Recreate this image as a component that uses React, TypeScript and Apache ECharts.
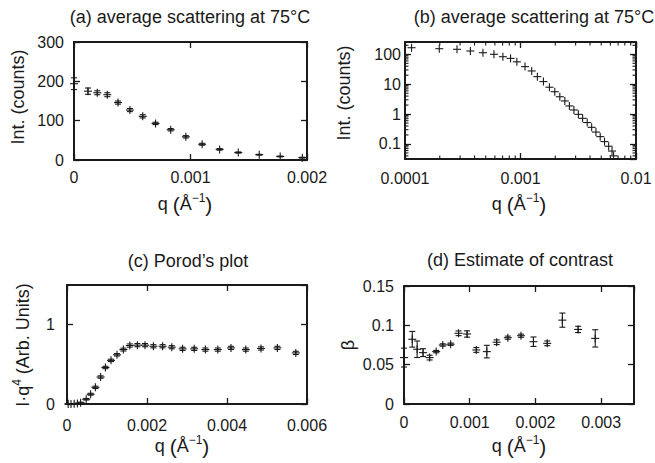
import { useEffect, useRef } from "react";
import * as echarts from "echarts";

// ---------- Panel (a): average scattering, linear ----------
const qA = [0, 0.00012, 0.0002, 0.000286, 0.000378, 0.00048, 0.00059, 0.0007, 0.00083, 0.00096, 0.0011, 0.00125, 0.00141, 0.00159, 0.00177, 0.00196];
const intA = [194, 175, 171, 166, 146, 127, 111, 93, 77, 59, 40, 27, 19, 13.5, 9, 6];
const errA = [15, 8, 5, 5, 4, 4, 4, 3, 3, 3, 2.5, 2, 1.5, 1, 1, 1];

// ---------- Panel (b): average scattering, log-log ----------
const qB = [0.000114, 0.000198, 0.000282, 0.000368, 0.000473, 0.000589, 0.000704, 0.00082, 0.00093, 0.001094, 0.00125, 0.0014, 0.00158, 0.00178, 0.00198, 0.00219, 0.00242, 0.00265, 0.0029, 0.00317, 0.00345, 0.00378, 0.00413, 0.0045, 0.0049, 0.00534, 0.0058, 0.0062, 0.0064];
const intB = [166, 154, 147, 129, 113, 100, 83, 73, 56, 38.7, 27.7, 17.9, 12.2, 7.9, 5.6, 3.8, 2.75, 1.87, 1.37, 0.98, 0.72, 0.52, 0.36, 0.25, 0.176, 0.12, 0.084, 0.058, 0.04];
const minorXB = [0.0002, 0.0003, 0.0004, 0.0005, 0.0006, 0.0007, 0.0008, 0.0009, 0.002, 0.003, 0.004, 0.005, 0.006, 0.007, 0.008, 0.009];
const minorYB = [0.04, 0.05, 0.06, 0.07, 0.08, 0.09, 0.2, 0.3, 0.4, 0.5, 0.6, 0.7, 0.8, 0.9, 2, 3, 4, 5, 6, 7, 8, 9, 20, 30, 40, 50, 60, 70, 80, 90, 200];

// ---------- Panel (c): Porod's plot ----------
const qC = [0.00003, 0.0001, 0.00018, 0.00026, 0.00034, 0.00048, 0.00059, 0.00071, 0.00084, 0.00096, 0.0011, 0.00125, 0.00141, 0.00157, 0.00176, 0.00195, 0.00216, 0.00239, 0.00262, 0.00289, 0.00318, 0.00346, 0.00377, 0.0041, 0.00447, 0.00485, 0.00526, 0.00572];
const porodC = [0, 0, 0.002, 0.005, 0.015, 0.06, 0.123, 0.21, 0.34, 0.46, 0.55, 0.62, 0.686, 0.737, 0.742, 0.742, 0.728, 0.728, 0.716, 0.695, 0.695, 0.686, 0.686, 0.707, 0.686, 0.7, 0.707, 0.644];
const errC = [0.005, 0.005, 0.005, 0.005, 0.008, 0.01, 0.012, 0.015, 0.015, 0.015, 0.015, 0.015, 0.018, 0.02, 0.02, 0.02, 0.02, 0.02, 0.02, 0.02, 0.02, 0.02, 0.02, 0.02, 0.02, 0.02, 0.02, 0.02];

// ---------- Panel (d): estimate of contrast ----------
const qD = [0, 0.000126, 0.0002, 0.00029, 0.00039, 0.00049, 0.00059, 0.00071, 0.00083, 0.00096, 0.0011, 0.00126, 0.00141, 0.00158, 0.00178, 0.00197, 0.00218, 0.00241, 0.00265, 0.00291];
const betaD = [0.059, 0.0823, 0.0696, 0.0653, 0.059, 0.0666, 0.075, 0.076, 0.0899, 0.089, 0.0687, 0.0666, 0.0785, 0.0843, 0.0868, 0.0792, 0.0771, 0.1066, 0.0948, 0.0834];
const errD = [0.012, 0.01, 0.0105, 0.005, 0.003, 0.0015, 0.0015, 0.0015, 0.003, 0.004, 0.003, 0.008, 0.003, 0.002, 0.002, 0.006, 0.003, 0.009, 0.004, 0.011];

const titles = [
  "(a) average scattering at 75°C",
  "(b) average scattering at 75°C",
  "(c) Porod\u2019s plot",
  "(d) Estimate of contrast",
];

const FONT = "'Liberation Sans', Arial, Helvetica, sans-serif";
const INK = "#1a1a1a";
const TICK_FS = 16;
const NAME_FS = 18;

const grids = [
  { left: 74, top: 42, width: 233, height: 118 },
  { left: 405, top: 42, width: 231, height: 117 },
  { left: 67, top: 285, width: 240, height: 119 },
  { left: 404, top: 286, width: 230, height: 118 },
];

const fmt = (v: number) => String(Number(Number(v).toPrecision(6)));

function axisPair(gi: number, pos: [string, string], base: any, labelMargin: number, labelExtra: any = {}) {
  const common = {
    gridIndex: gi,
    ...base,
    axisLine: { show: true, onZero: false, lineStyle: { color: INK, width: 2 } },
    axisTick: { show: true, inside: true, length: 6, lineStyle: { color: INK, width: 1.3 } },
    splitLine: { show: false },
    minorTick: { show: false },
  };
  return [
    {
      ...common,
      position: pos[0],
      axisLabel: { show: true, margin: labelMargin, fontSize: TICK_FS, fontFamily: FONT, color: INK, formatter: fmt, ...labelExtra },
    },
    { ...common, position: pos[1], axisLabel: { show: false } },
  ];
}

const pointRender = (_params: any, api: any) => {
  const x = api.value(0);
  const y = api.value(1);
  const e = api.value(2);
  const c = api.coord([x, y]);
  const st = { stroke: INK, lineWidth: 1.1 };
  const kids: any[] = [
    { type: "line", shape: { x1: c[0] - 4, y1: c[1], x2: c[0] + 4, y2: c[1] }, style: st },
    { type: "line", shape: { x1: c[0], y1: c[1] - 4, x2: c[0], y2: c[1] + 4 }, style: st },
  ];
  if (e > 0) {
    const t = api.coord([x, y + e])[1];
    const b = api.coord([x, y - e])[1];
    kids.push({ type: "line", shape: { x1: c[0], y1: t, x2: c[0], y2: b }, style: st });
    kids.push({ type: "line", shape: { x1: c[0] - 3, y1: t, x2: c[0] + 3, y2: t }, style: st });
    kids.push({ type: "line", shape: { x1: c[0] - 3, y1: b, x2: c[0] + 3, y2: b }, style: st });
  }
  return { type: "group", children: kids };
};

function pointSeries(gi: number, qs: number[], vs: number[], es: number[] | null) {
  return {
    type: "custom",
    xAxisIndex: gi * 2,
    yAxisIndex: gi * 2,
    clip: false,
    silent: true,
    encode: { x: 0, y: 1 },
    renderItem: pointRender,
    data: qs.map((q, i) => [q, vs[i], es ? es[i] : 0]),
  };
}

function txt(text: string, x: number, y: number, size: number, rot = 0, rich?: any) {
  return {
    type: "text",
    x,
    y,
    rotation: rot,
    silent: true,
    style: {
      text,
      fill: INK,
      fontSize: size,
      fontFamily: FONT,
      lineHeight: size + 6,
      textAlign: "center",
      textVerticalAlign: "middle",
      align: "center",
      verticalAlign: "middle",
      rich,
    },
  };
}

const supRich = {
  sup: { fontSize: 12, fontFamily: FONT, fill: INK, verticalAlign: "top" },
  p: { fontSize: 21, fontFamily: FONT, fill: INK },
};

export default function App() {
  const ref = useRef<HTMLDivElement>(null);
  useEffect(() => {
    if (!ref.current) return;
    const chart = echarts.init(ref.current, undefined, { renderer: "svg" });

    const xAxes = [
      ...axisPair(0, ["bottom", "top"], { type: "value", min: 0, max: 0.002, interval: 0.001 }, 9),
      ...axisPair(1, ["bottom", "top"], { type: "log", logBase: 10, min: 0.0001, max: 0.01 }, 11),
      ...axisPair(2, ["bottom", "top"], { type: "value", min: 0, max: 0.006, interval: 0.002 }, 13),
      ...axisPair(3, ["bottom", "top"], { type: "value", min: 0, max: 0.0035, interval: 0.001 }, 10, { showMaxLabel: false }),
    ];
    const yAxes = [
      ...axisPair(0, ["left", "right"], { type: "value", min: 0, max: 300, interval: 100 }, 10),
      ...axisPair(1, ["left", "right"], { type: "log", logBase: 10, min: 0.0314, max: 258 }, 4, { showMinLabel: false, showMaxLabel: false }),
      ...axisPair(2, ["left", "right"], { type: "value", min: 0, max: 1.5, interval: 1 }, 12, { showMaxLabel: false }),
      ...axisPair(3, ["left", "right"], { type: "value", min: 0, max: 0.15, interval: 0.05 }, 10),
    ];

    const minorSt = { stroke: INK, lineWidth: 1.1 };
    const minorX = {
      type: "custom",
      xAxisIndex: 2,
      yAxisIndex: 2,
      silent: true,
      clip: false,
      encode: { x: 0, y: 1 },
      data: minorXB.map((v) => [v, 1]),
      renderItem: (params: any, api: any) => {
        const x = api.coord([api.value(0), 1])[0];
        const cs = params.coordSys;
        return {
          type: "group",
          children: [
            { type: "line", shape: { x1: x, y1: cs.y, x2: x, y2: cs.y + 3.5 }, style: minorSt },
            { type: "line", shape: { x1: x, y1: cs.y + cs.height - 3.5, x2: x, y2: cs.y + cs.height }, style: minorSt },
          ],
        };
      },
    };
    const minorY = {
      type: "custom",
      xAxisIndex: 2,
      yAxisIndex: 2,
      silent: true,
      clip: false,
      encode: { x: 0, y: 1 },
      data: minorYB.map((v) => [0.001, v]),
      renderItem: (params: any, api: any) => {
        const y = api.coord([0.001, api.value(1)])[1];
        const cs = params.coordSys;
        return {
          type: "group",
          children: [
            { type: "line", shape: { x1: cs.x, y1: y, x2: cs.x + 3.5, y2: y }, style: minorSt },
            { type: "line", shape: { x1: cs.x + cs.width - 3.5, y1: y, x2: cs.x + cs.width, y2: y }, style: minorSt },
          ],
        };
      },
    };

    const qName = "q {p|(}Å{sup|\u22121}{p|)}";
    const graphics = [
      txt(titles[0], 190, 17, NAME_FS),
      txt(titles[1], 534, 17, NAME_FS),
      txt(titles[2], 188, 261, NAME_FS),
      txt(titles[3], 520, 260, NAME_FS),
      txt(qName, 185, 204, NAME_FS, 0, supRich),
      txt(qName, 519, 204, NAME_FS, 0, supRich),
      txt(qName, 182, 446, NAME_FS, 0, supRich),
      txt(qName, 519, 446, NAME_FS, 0, supRich),
      txt("Int. (counts)", 18, 97, NAME_FS, Math.PI / 2),
      txt("Int. (counts)", 344, 93, NAME_FS, Math.PI / 2),
      txt("I·q{sup|4} (Arb. Units)", 23, 345, NAME_FS, Math.PI / 2, supRich),
      txt("β", 348, 345, NAME_FS, Math.PI / 2),
    ];

    chart.setOption({
      animation: false,
      backgroundColor: "#ffffff",
      grid: grids.map((g) => ({ ...g, containLabel: false })),
      xAxis: xAxes,
      yAxis: yAxes,
      graphic: graphics,
      series: [
        pointSeries(0, qA, intA, errA),
        pointSeries(1, qB, intB, null),
        pointSeries(2, qC, porodC, errC),
        pointSeries(3, qD, betaD, errD),
        minorX,
        minorY,
      ],
    });
    return () => chart.dispose();
  }, []);
  return <div ref={ref} style={{ position: "fixed", left: 0, top: 0, width: 655, height: 463, background: "#fff" }} />;
}
